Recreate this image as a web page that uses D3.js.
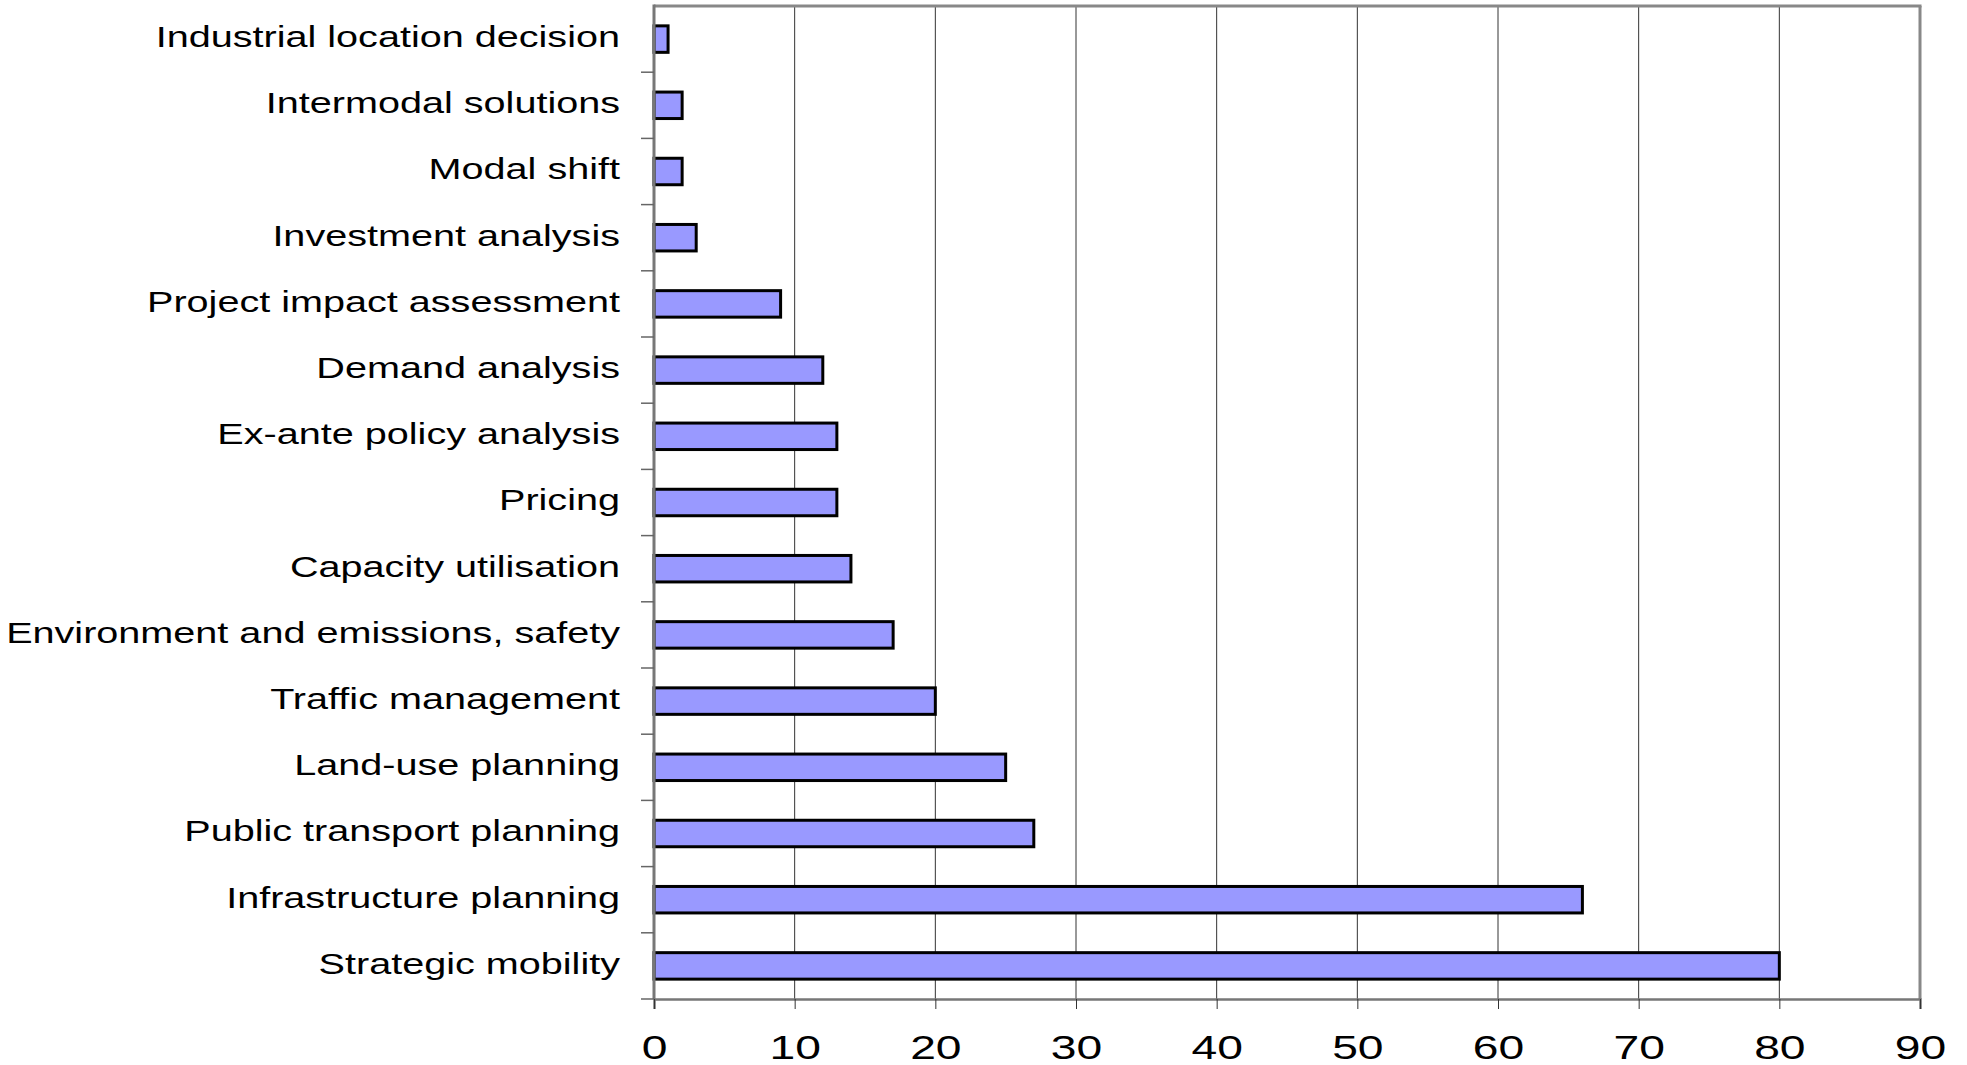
<!DOCTYPE html>
<html>
<head>
<meta charset="utf-8">
<script src="https://cdn.jsdelivr.net/npm/d3@7"></script>
<style>
  html, body { margin: 0; padding: 0; background: #fff; }
  svg { display: block; }
  text { font-family: "Liberation Sans", Arial, sans-serif; fill: #000; }
</style>
</head>
<body>
<svg id="chart" width="1967" height="1065"></svg>
<script>
// Application areas, top to bottom
const categories = [
  "Industrial location decision",
  "Intermodal solutions",
  "Modal shift",
  "Investment analysis",
  "Project impact assessment",
  "Demand analysis",
  "Ex-ante policy analysis",
  "Pricing",
  "Capacity utilisation",
  "Environment and emissions, safety",
  "Traffic management",
  "Land-use planning",
  "Public transport planning",
  "Infrastructure planning",
  "Strategic mobility"
];
const counts = [1, 2, 2, 3, 9, 12, 13, 13, 14, 17, 20, 25, 27, 66, 80];
const xTicks = [0, 10, 20, 30, 40, 50, 60, 70, 80, 90];

const W = 1967, H = 1065;
const margin = { top: 6, right: 47, bottom: 66, left: 654 };
const innerW = W - margin.left - margin.right;
const innerH = H - margin.top - margin.bottom;

// wide text rendering: stretch each label horizontally
function widen(factor) {
  return sel => sel.each(function () {
    const w = this.getComputedTextLength();
    d3.select(this).attr("textLength", w * factor).attr("lengthAdjust", "spacingAndGlyphs");
  });
}

const svg = d3.select("#chart");
const g = svg.append("g").attr("transform", `translate(${margin.left},${margin.top})`);

const x = d3.scaleLinear().domain([0, 90]).range([0, innerW]);
const y = d3.scaleBand().domain(categories).range([0, innerH]).paddingInner(0.6).paddingOuter(0.3);
const yb = d3.scaleBand().domain(categories).range([0, innerH]);

// vertical gridlines
g.append("g").selectAll("line")
  .data(xTicks.filter(t => t > 0 && t < 90))
  .join("line")
  .attr("x1", d => x(d)).attr("x2", d => x(d))
  .attr("y1", 0).attr("y2", innerH)
  .attr("stroke", "#333").attr("stroke-width", 1);

// plot frame: top and right
g.append("line").attr("x1", 0).attr("x2", innerW + 1.5).attr("y1", 0).attr("y2", 0)
  .attr("stroke", "#888").attr("stroke-width", 3);
g.append("line").attr("x1", innerW).attr("x2", innerW).attr("y1", 0).attr("y2", innerH)
  .attr("stroke", "#888").attr("stroke-width", 3);

// bars
g.append("g").selectAll("rect")
  .data(categories.map((c, i) => ({ c, v: counts[i] })))
  .join("rect")
  .attr("x", x(0))
  .attr("y", d => y(d.c))
  .attr("width", d => x(d.v) - x(0))
  .attr("height", y.bandwidth())
  .attr("fill", "#9999ff")
  .attr("stroke", "#000")
  .attr("stroke-width", 3);

// x axis
const xAxis = g.append("g").attr("transform", `translate(0,${innerH})`)
  .call(d3.axisBottom(x).tickValues(xTicks).tickSize(10).tickPadding(26));
xAxis.select(".domain").attr("stroke", "#777").attr("stroke-width", 2.5);
xAxis.selectAll(".tick line").attr("stroke", "#333").attr("stroke-width", 1);
xAxis.selectAll(".tick text")
  .attr("font-size", 33.5)
  .attr("font-family", "Liberation Sans, Arial, sans-serif")
  .attr("fill", "#000")
  .call(widen(1.38));

// y axis: ticks on band boundaries
const yAxis = g.append("g");
yAxis.append("line").attr("x1", 0).attr("x2", 0).attr("y1", -1.5).attr("y2", innerH)
  .attr("stroke", "#777").attr("stroke-width", 3);
yAxis.selectAll("line.bt")
  .data(categories.slice(1))
  .join("line").attr("class", "bt")
  .attr("x1", -13).attr("x2", 0)
  .attr("y1", d => yb(d)).attr("y2", d => yb(d))
  .attr("stroke", "#666").attr("stroke-width", 1.5);
yAxis.append("line").attr("x1", -13).attr("x2", 0).attr("y1", innerH).attr("y2", innerH)
  .attr("stroke", "#666").attr("stroke-width", 1.5);

// category labels
yAxis.selectAll("text")
  .data(categories)
  .join("text")
  .attr("x", -34)
  .attr("y", d => yb(d) + yb.bandwidth() / 2 - 2.5)
  .attr("dy", "0.36em")
  .attr("text-anchor", "end")
  .attr("font-size", 29)
  .text(d => d)
  .call(widen(1.365));
</script>
</body>
</html>
